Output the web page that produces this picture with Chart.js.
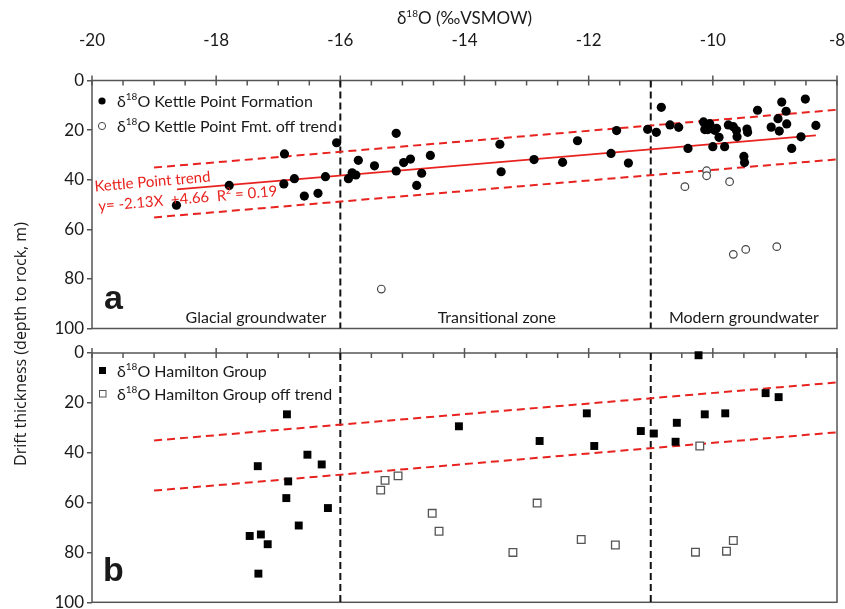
<!DOCTYPE html>
<html>
<head>
<meta charset="utf-8">
<script src="https://cdn.jsdelivr.net/npm/chart.js@4.4.1/dist/chart.umd.min.js"></script>
<style>
body{margin:0;background:#fff}
#wrap{position:relative;width:845px;height:609px;overflow:hidden}
canvas{position:absolute;left:0}
#topChart{top:0}
#botChart{top:340px}
#ytitle{position:absolute;left:-180px;top:333px;width:400px;text-align:center;font-family:"Open Sans", sans-serif;font-size:16px;font-weight:normal;color:#1a1a1a;transform:rotate(-90deg)}
</style>
</head>
<body>
<div id="wrap">
<canvas id="topChart" width="845" height="340"></canvas>
<canvas id="botChart" width="845" height="269"></canvas>
<div id="ytitle">Drift thickness (depth to rock, m)</div>
</div>
<script>
// axes
const xLabels = [-20, -18, -16, -14, -12, -10, -8];
const yLabels = [0, 20, 40, 60, 80, 100];
const zoneBounds = [-16, -11];
const zoneNames = ['Glacial groundwater', 'Transitional zone', 'Modern groundwater'];
const zoneMid = [-17.36, -13.48, -9.5];

// Kettle Point Formation
const kpX = [-18.64, -17.79, -16.90, -16.91, -16.74, -16.58, -16.36, -16.24, -16.06, -15.87,
  -15.81, -15.75, -15.71, -15.45, -15.10, -15.10, -14.98, -14.87, -14.77, -14.69,
  -14.55, -13.43, -13.41, -12.88, -12.42, -12.18, -11.64, -11.55, -11.36, -11.05,
  -10.91, -10.83, -10.69, -10.55, -10.40, -10.15, -10.13, -10.05, -10.08, -9.97,
  -9.94, -9.90, -10.00, -9.81, -9.75, -9.67, -9.62, -9.61, -9.45, -9.44,
  -9.50, -9.49, -9.28, -9.06, -8.95, -8.89, -8.82, -8.81, -8.93, -8.73,
  -8.58, -8.51, -8.34];
const kpY = [50.3, 42.3, 29.6, 41.7, 39.6, 46.6, 45.5, 38.8, 25.1, 39.6,
  37.2, 38.1, 32.2, 34.4, 21.3, 36.5, 33.1, 31.7, 42.3, 37.4,
  30.2, 25.7, 36.8, 31.9, 33.0, 24.3, 29.4, 20.2, 33.3, 19.7,
  20.9, 10.8, 17.9, 18.9, 27.4, 16.7, 19.8, 17.4, 19.8, 20.1,
  19.3, 22.9, 26.7, 26.7, 17.9, 18.6, 20.2, 22.7, 19.6, 20.9,
  30.6, 33.1, 12.0, 18.8, 15.4, 8.7, 12.4, 17.5, 20.4, 27.4,
  22.7, 7.5, 18.1];
const kpOffX = [-15.34, -10.10, -10.10, -10.45, -9.73, -9.67, -9.47, -8.97];
const kpOffY = [84.1, 36.4, 38.4, 42.8, 40.8, 70.1, 68.1, 67.0];

// Hamilton Group
const hgX = [-16.86, -16.53, -16.30, -17.33, -16.84, -16.87, -16.20, -16.67, -17.46, -17.28,
  -17.17, -17.32, -14.09, -12.79, -12.03, -11.91, -10.23, -11.16, -10.95, -10.58,
  -10.60, -10.13, -9.80, -9.15, -8.94];
const hgY = [24.6, 40.8, 44.7, 45.4, 51.5, 58.2, 62.2, 69.2, 73.4, 72.8,
  76.7, 88.5, 29.4, 35.3, 24.2, 37.3, 0.9, 31.3, 32.3, 28.0,
  35.6, 24.6, 24.2, 16.1, 17.7];
const hgOffX = [-15.35, -15.28, -15.07, -14.52, -14.41, -13.22, -12.83, -12.12, -11.57, -10.21,
  -10.28, -9.78, -9.67];
const hgOffY = [55.0, 51.1, 49.3, 64.3, 71.5, 80.0, 60.2, 74.8, 77.0, 37.3,
  79.9, 79.5, 75.2];

// Kettle Point trend and its band
const trendX = [-18.63, -8.34];
const trendY = [43.9, 22.1];
const bandX = [-19, -8];
const bandUpY = [35.1, 11.8];
const bandLowY = [55.2, 31.8];

const FONT = 'Lato, "Open Sans", sans-serif';
const RED = '#e8231f';
const INK = '#1a1a1a';
Chart.defaults.font.family = FONT;

function pts(xs, ys) { return xs.map((x, i) => ({ x: x, y: ys[i] })); }

function drawRich(ctx, x, y, parts, size, align) {
  let w = 0;
  parts.forEach(p => {
    ctx.font = (p[1] ? Math.round(size * 0.6) : size) + 'px ' + FONT;
    w += ctx.measureText(p[0]).width;
  });
  let cx = align === 'center' ? x - w / 2 : x;
  parts.forEach(p => {
    ctx.font = (p[1] ? Math.round(size * 0.6) : size) + 'px ' + FONT;
    ctx.fillText(p[0], cx, p[1] ? y - size * 0.42 : y);
    cx += ctx.measureText(p[0]).width;
  });
}

function lineSets(withTrend) {
  const sets = [];
  if (withTrend) {
    sets.push({ data: pts(trendX, trendY), showLine: true, borderColor: RED, borderWidth: 1.8, pointRadius: 0 });
  }
  sets.push({ data: pts(bandX, bandUpY), showLine: true, borderColor: RED, borderWidth: 2, borderDash: [8, 5], pointRadius: 0 });
  sets.push({ data: pts(bandX, bandLowY), showLine: true, borderColor: RED, borderWidth: 2, borderDash: [8, 5], pointRadius: 0 });
  zoneBounds.forEach(b => {
    sets.push({ data: [{ x: b, y: yLabels[0] }, { x: b, y: yLabels[yLabels.length - 1] }], showLine: true,
      borderColor: '#111', borderWidth: 2, borderDash: [7, 4], pointRadius: 0 });
  });
  return sets;
}

function framePlugin(drawExtra) {
  return {
    id: 'frame',
    beforeDatasetsDraw(chart) {
      const { ctx, chartArea: a, scales: { x } } = chart;
      ctx.save();
      ctx.strokeStyle = '#555';
      ctx.lineWidth = 1.5;
      ctx.strokeRect(a.left, a.top, a.right - a.left, a.bottom - a.top);
      x.ticks.forEach(t => {
        const px = x.getPixelForValue(t.value);
        const major = xLabels.includes(t.value);
        ctx.beginPath();
        ctx.moveTo(px, a.top - (major ? 5 : 0));
        ctx.lineTo(px, a.top + 5);
        ctx.stroke();
      });
      ctx.restore();
    },
    afterDatasetsDraw(chart) {
      chart.ctx.save();
      drawExtra(chart);
      chart.ctx.restore();
    }
  };
}

function makeScales(topHeight, showXLabels, padBottom) {
  return {
    x: {
      type: 'linear', position: 'top', min: xLabels[0], max: xLabels[xLabels.length - 1],
      ticks: {
        display: showXLabels, stepSize: 0.5, autoSkip: false, maxRotation: 0, padding: 22,
        font: { size: 17 }, color: INK,
        callback: v => xLabels.includes(v) ? String(v) : ''
      },
      grid: { display: false }, border: { display: false },
      afterFit: s => { s.height = topHeight; s.paddingLeft = 0; s.paddingRight = 0; }
    },
    y: {
      reverse: true, min: yLabels[0], max: yLabels[yLabels.length - 1],
      ticks: { stepSize: 20, font: { size: 17 }, color: INK, padding: 3 },
      grid: { drawOnChartArea: false, tickLength: 5, color: '#555', lineWidth: 1.5 },
      border: { display: false },
      afterFit: s => { s.width = 92; s.paddingTop = 0; s.paddingBottom = padBottom; }
    }
  };
}

const baseOpts = {
  responsive: false, animation: false,
  plugins: { legend: { display: false }, tooltip: { enabled: false } }
};

// top panel
new Chart(document.getElementById('topChart'), {
  type: 'scatter',
  data: {
    datasets: [
      { data: pts(kpX, kpY), pointRadius: 4.6, backgroundColor: '#000', borderWidth: 0, clip: false },
      { data: pts(kpOffX, kpOffY), pointRadius: 3.8, backgroundColor: '#fff', borderColor: '#444', borderWidth: 1.2, clip: false }
    ].concat(lineSets(true))
  },
  options: Object.assign({}, baseOpts, {
    layout: { padding: { left: 0, right: 8, top: 0, bottom: 11.5 } },
    scales: makeScales(80.5, true, 0)
  }),
  plugins: [framePlugin(chart => {
    const { ctx, chartArea: a, scales: { x } } = chart;
    // x title
    ctx.fillStyle = INK;
    ctx.textBaseline = 'alphabetic';
    drawRich(ctx, (a.left + a.right) / 2, 24, [['δ', 0], ['18', 1], ['O (‰VSMOW)', 0]], 17, 'center');
    // zone names
    ctx.font = '16px ' + FONT;
    ctx.textAlign = 'center';
    zoneNames.forEach((n, i) => ctx.fillText(n, x.getPixelForValue(zoneMid[i]), a.bottom - 6));
    ctx.textAlign = 'left';
    // panel letter
    ctx.font = 'bold 34px "Liberation Sans", Arial, sans-serif';
    ctx.fillText('a', a.left + 12, a.bottom - 20);
    // legend
    ctx.fillStyle = '#000';
    ctx.beginPath(); ctx.arc(a.left + 10, a.top + 20.5, 3.6, 0, Math.PI * 2); ctx.fill();
    ctx.strokeStyle = '#444'; ctx.lineWidth = 1;
    ctx.beginPath(); ctx.arc(a.left + 10, a.top + 45.5, 3.6, 0, Math.PI * 2); ctx.stroke();
    ctx.fillStyle = INK;
    drawRich(ctx, a.left + 25, a.top + 26, [['δ', 0], ['18', 1], ['O Kettle Point Formation', 0]], 16);
    drawRich(ctx, a.left + 25, a.top + 51, [['δ', 0], ['18', 1], ['O Kettle Point Fmt. off trend', 0]], 16);
    // trend label
    ctx.fillStyle = RED;
    ctx.translate(a.left + 3, a.top + 111);
    ctx.rotate(-0.085);
    ctx.font = '15px ' + FONT;
    ctx.fillText('Kettle Point trend', 0, 0);
    drawRich(ctx, 2, 20, [['y= -2.13X  +4.66  R', 0], ['2', 1], [' = 0.19', 0]], 15);
  })]
});

// bottom panel
new Chart(document.getElementById('botChart'), {
  type: 'scatter',
  data: {
    datasets: [
      { data: pts(hgX, hgY), pointStyle: 'rect', pointRadius: 5.6, backgroundColor: '#000', borderWidth: 0, clip: false },
      { data: pts(hgOffX, hgOffY), pointStyle: 'rect', pointRadius: 5.4, backgroundColor: '#fff', borderColor: '#555', borderWidth: 1.3, clip: false }
    ].concat(lineSets(false))
  },
  options: Object.assign({}, baseOpts, {
    layout: { padding: { left: 0, right: 8, top: 0, bottom: 6 } },
    scales: makeScales(13, false, 0)
  }),
  plugins: [framePlugin(chart => {
    const { ctx, chartArea: a } = chart;
    ctx.font = 'bold 34px "Liberation Sans", Arial, sans-serif';
    ctx.fillStyle = INK;
    ctx.fillText('b', a.left + 11, a.bottom - 21);
    // legend
    ctx.fillStyle = '#000';
    ctx.fillRect(a.left + 7, a.top + 14, 7, 7);
    ctx.strokeStyle = '#555'; ctx.lineWidth = 1;
    ctx.strokeRect(a.left + 7.5, a.top + 37.5, 6.5, 6.5);
    ctx.fillStyle = INK;
    drawRich(ctx, a.left + 25, a.top + 24, [['δ', 0], ['18', 1], ['O Hamilton Group', 0]], 16);
    drawRich(ctx, a.left + 25, a.top + 47, [['δ', 0], ['18', 1], ['O Hamilton Group off trend', 0]], 16);
  })]
});
</script>
</body>
</html>
